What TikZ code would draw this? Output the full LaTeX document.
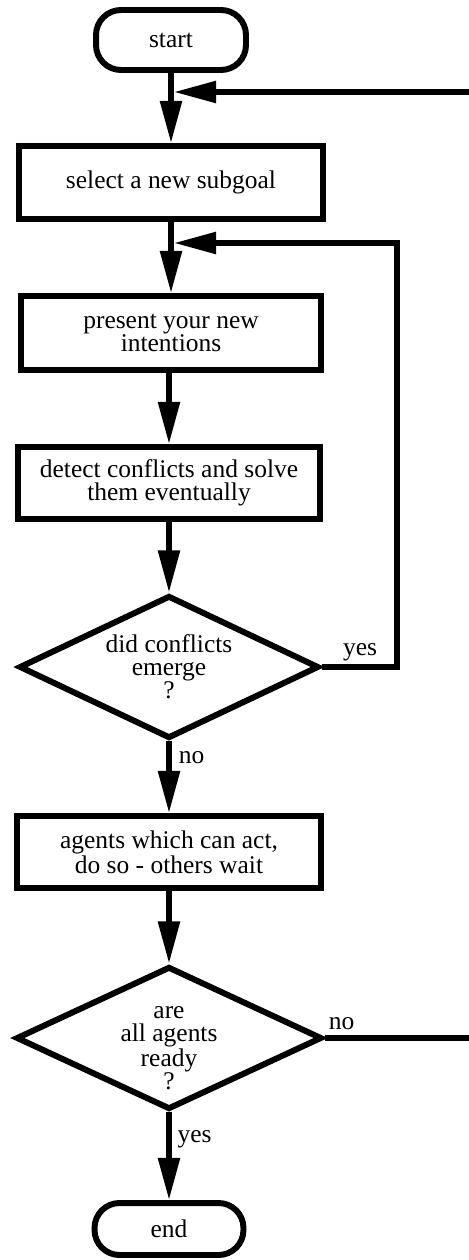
\documentclass[tikz,border=0pt]{standalone}
\usepackage{fontspec}
\setmainfont{Liberation Serif}
\usetikzlibrary{shapes.geometric,arrows.meta}

\begin{document}
\begin{tikzpicture}[x=0.02cm,y=-0.02cm,
  font=\fontsize{14.5}{13}\selectfont,
  box/.style={draw,line width=3.4pt,rectangle,align=center,inner sep=0pt},
  term/.style={box,rounded corners=0.5cm},
  decision/.style={draw,line width=3.4pt,diamond,aspect=2.1,align=center,inner sep=0pt},
  flow/.style={line width=3.1pt,-{Triangle[length=24pt,width=12pt]}},
  lbl/.style={anchor=base,inner sep=0pt}]

\useasboundingbox (0,0) rectangle (468,1260);

% process steps
\node[term,minimum width=3.0cm,minimum height=1.2cm] (start) at (171,40) {start};
\node[box,minimum width=6.08cm,minimum height=1.46cm] (select) at (171,182.5) {select a new subgoal};
\node[box,minimum width=6.02cm,minimum height=1.48cm] (present) at (171,333) {present your new\\intentions};
\node[box,minimum width=6.04cm,minimum height=1.44cm] (detect) at (169,483) {detect conflicts and solve\\them eventually};
\node[decision,minimum width=6.0cm,minimum height=2.86cm] (d1) at (169,667) {did conflicts\\emerge\\?};
\node[box,minimum width=6.1cm,minimum height=1.44cm] (agents) at (169,852) {agents which can act,\\do so - others wait};
\node[decision,minimum width=6.12cm,minimum height=2.86cm] (d2) at (169,1038) {};
\node[align=center,inner sep=0pt] (d2text) at (169,1048) {are\\all agents\\ready\\?};
\node[term,minimum width=2.98cm,minimum height=1.04cm] (end) at (169,1229) {end};

% merge points on the main line
\coordinate (m1) at (174,92);
\coordinate (m2) at (174,243);
\coordinate (r1) at (397,243);
\coordinate (r2) at (472,92);

% main flow
\draw[flow] (start.south) -- (select.north);
\draw[flow] (select.south) -- (present.north);
\draw[flow] (detect.north |- present.south) -- (detect.north);
\draw[flow] (detect.south) -- (d1.north);
\draw[flow] (d1.south) -- (agents.north);
\draw[flow] (agents.south) -- (d2.north);
\draw[flow] (d2.south) -- (end.north);

% loops back
\draw[flow] (d1.east) -| (r1) -- (m2);
\draw[flow] (d2.east) -| (r2) -- (m1);

% branch labels
\node[lbl] (yes1) at (360,655) {yes};
\node[lbl] (no1) at (191.5,763) {no};
\node[lbl] (no2) at (341.5,1029) {no};
\node[lbl] (yes2) at (194.5,1142) {yes};
\end{tikzpicture}
\end{document}
